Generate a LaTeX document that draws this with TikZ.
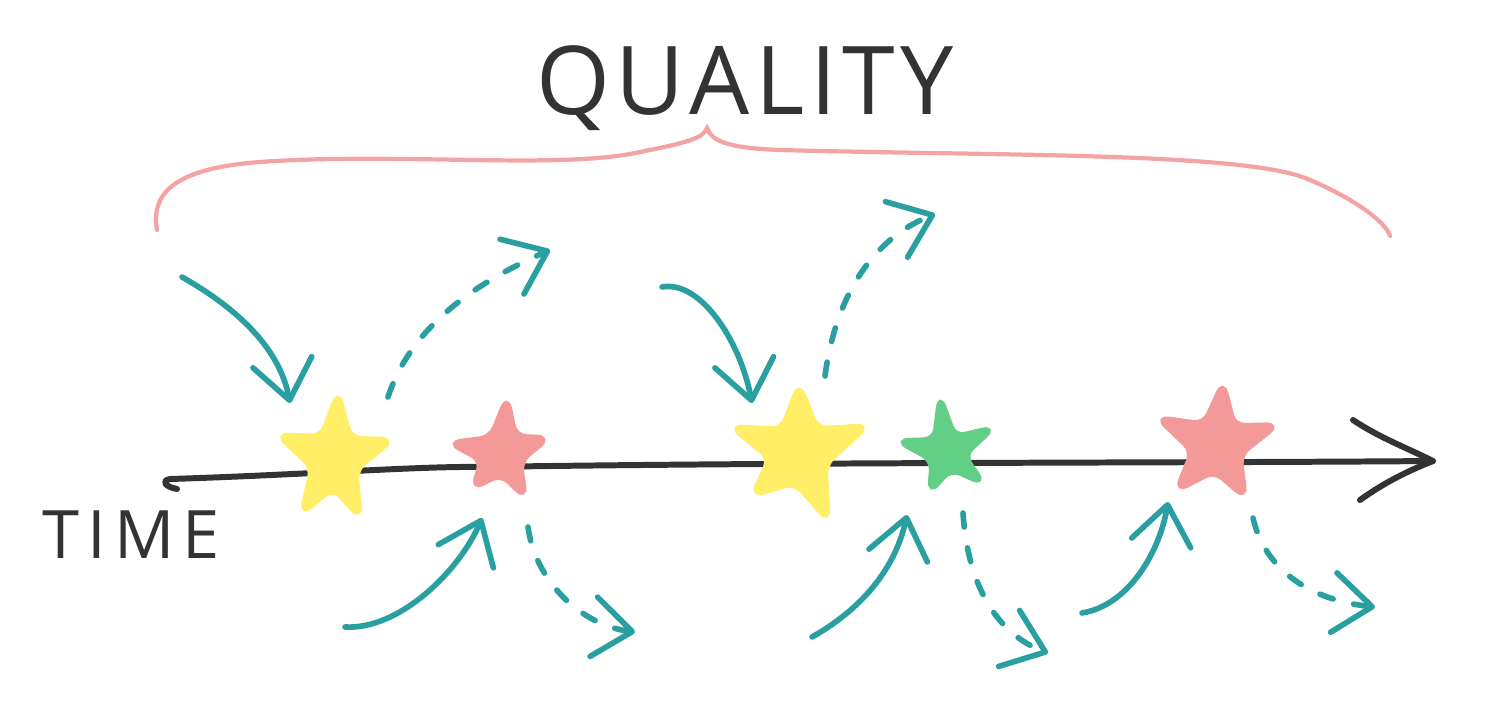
\documentclass[tikz,border=0pt]{standalone}
\usepackage{fontspec}
\setmainfont{Open Sans}
\usetikzlibrary{arrows.meta,calc}
\definecolor{ink}{HTML}{333333}
\definecolor{flowteal}{HTML}{2A9FA1}
\definecolor{bracepink}{HTML}{F4A3A3}
\definecolor{staryellow}{HTML}{FFEE66}
\definecolor{starpink}{HTML}{F39A99}
\definecolor{stargreen}{HTML}{63CE86}

% hand drawn star: name, colour, centre, five tips, waist
\newcommand{\handstar}[9]{%
  \coordinate (#1) at (#3);
  \filldraw[#2, line width=1.6pt, rounded corners=3pt]
    ($(#3)!#9!($(#8)!0.5!(#4)$)$) -- (#4)
    -- ($(#3)!#9!($(#4)!0.5!(#5)$)$) -- (#5)
    -- ($(#3)!#9!($(#5)!0.5!(#6)$)$) -- (#6)
    -- ($(#3)!#9!($(#6)!0.5!(#7)$)$) -- (#7)
    -- ($(#3)!#9!($(#7)!0.5!(#8)$)$) -- (#8) -- cycle;}

\begin{document}
\begin{tikzpicture}[
    x=0.01cm, y=-0.01cm,
    timeline/.style={ink, line width=1.7pt, line cap=round, line join=round},
    bracket/.style={bracepink, line width=1.2pt, line cap=round},
    inflow/.style={flowteal, line width=1.6pt, line cap=round,
      -{Straight Barb[length=11pt, width=17pt, round]}},
    outflow/.style={inflow, dash pattern=on 4pt off 6pt},
    label/.style={ink, inner sep=0pt}
]
    \fill[white] (0,0) rectangle (1500,706);
    \useasboundingbox (0,0) rectangle (1500,706);

    % headings
    \node[label, font=\fontsize{27}{27}\selectfont\addfontfeatures{LetterSpace=6}] (quality) at (745,88) {QUALITY};
    \node[label, font=\fontsize{19}{19}\selectfont\addfontfeatures{LetterSpace=12}] (time) at (131,535) {TIME};

    % brace
    \draw[bracket] (157,230) .. controls (150,190) and (180,168) .. (260,162)
        .. controls (400,152) and (560,170) .. (640,152)
        .. controls (690,142) and (703,138) .. (707,128)
        .. controls (712,142) and (730,148) .. (780,150)
        .. controls (1000,156) and (1250,152) .. (1310,180)
        .. controls (1350,197) and (1385,220) .. (1390,236);

    % time axis
    \draw[timeline] (177,489) .. controls (166,487) and (160,481) .. (170,479)
        .. controls (300,475) and (420,466) .. (480,467)
        .. controls (800,462) and (1200,463) .. (1433,461);
    \draw[timeline] (1353,420) .. controls (1380,438) and (1405,447) .. (1433,461)
        .. controls (1410,470) and (1385,482) .. (1360,500);

    % stars
    \handstar{s1}{staryellow}{335,460}{338,393}{392,440}{360,517}{302,513}{278,435}{0.5}
    \handstar{s2}{starpink}{503,455}{507,398}{548,438}{525,497}{473,488}{450,443}{0.5}
    \handstar{s3}{staryellow}{800,455}{799,385}{867,426}{828,520}{753,495}{732,427}{0.52}
    \handstar{s4}{stargreen}{946,455}{940,397}{993,428}{983,483}{930,492}{898,441}{0.42}
    \handstar{s5}{starpink}{1218,448}{1223,383}{1277,425}{1245,497}{1177,490}{1158,418}{0.5}

    % incoming
    \draw[inflow] (182,277) .. controls (240,310) and (280,350) .. (290,403);
    \draw[inflow] (345,627) .. controls (400,630) and (460,570) .. (482,518);
    \draw[inflow] (662,287) .. controls (700,280) and (740,340) .. (752,403);
    \draw[inflow] (812,637) .. controls (860,610) and (895,570) .. (907,515);
    \draw[inflow] (1082,613) .. controls (1130,605) and (1160,550) .. (1168,502);

    % outgoing
    \draw[outflow] (388,397) .. controls (410,330) and (470,285) .. (550,250);
    \draw[outflow] (528,527) .. controls (535,580) and (580,625) .. (635,632);
    \draw[outflow] (825,376) .. controls (835,300) and (870,240) .. (935,214);
    \draw[outflow] (963,513) .. controls (968,590) and (1000,635) .. (1048,653);
    \draw[outflow] (1253,518) .. controls (1265,570) and (1310,600) .. (1375,607);
\end{tikzpicture}
\end{document}
